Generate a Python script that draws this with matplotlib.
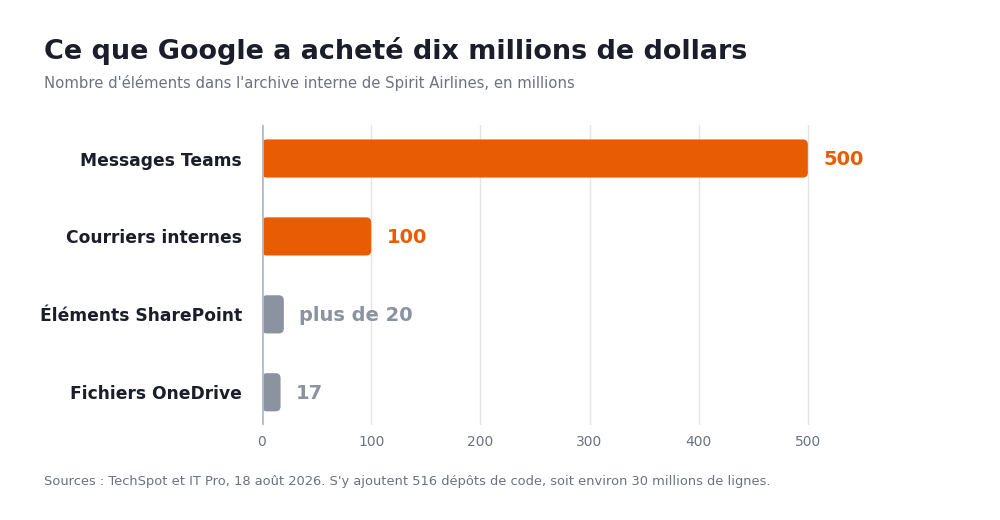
import matplotlib
matplotlib.use("Agg")
import matplotlib.pyplot as plt
from matplotlib.patches import FancyBboxPatch

categories = ["Messages Teams", "Courriers internes", "Éléments SharePoint", "Fichiers OneDrive"]
values = [500, 100, 20, 17]
value_labels = ["500", "100", "plus de 20", "17"]
highlight = [True, True, False, False]
xticks = [0, 100, 200, 300, 400, 500]

ORANGE = "#E85D04"
GREY = "#8B93A0"
DARK = "#1B1D2A"
MUTED = "#6B7280"

plt.rcParams['font.family'] = ['DejaVu Sans']

fig = plt.figure(figsize=(10, 5.2), dpi=100)
ax = fig.add_axes([0.262, 1 - 425 / 520, 0.655, 300 / 520])

ax.set_xlim(0, 600)
ax.set_ylim(len(categories) - 1 + 0.42, -0.43)

bar_h = 0.49
px_per_x = 655 / 600
px_per_y = 300 / (len(categories) - 1 + 0.85)
r_px = 5
rx = r_px / px_per_x
ry = r_px / px_per_y
for i, (v, h) in enumerate(zip(values, highlight)):
    color = ORANGE if h else GREY
    p = FancyBboxPatch((0, i - bar_h / 2), v, bar_h,
                       boxstyle=f"round,pad=0,rounding_size={rx}",
                       mutation_aspect=ry / rx,
                       facecolor=color, edgecolor="none", zorder=3)
    ax.add_patch(p)
    ax.text(v + 14, i + 0.015, value_labels[i], va="center", ha="left",
            fontsize=14, fontweight="bold", color=color, zorder=4)

ax.set_yticks(range(len(categories)))
ax.set_yticklabels(categories, fontsize=12.3, fontweight="bold", color=DARK)
ax.set_xticks(xticks)
ax.set_xticklabels([str(t) for t in xticks], fontsize=10, color=MUTED)
ax.tick_params(axis="both", length=0)
ax.tick_params(axis="y", pad=14.4)
ax.tick_params(axis="x", pad=7.5)

for t in xticks[1:]:
    ax.axvline(t, color="#E3E5EA", linewidth=1, zorder=1)
ax.axvline(0, color="#B4BCCB", linewidth=2, zorder=5)

for s in ax.spines.values():
    s.set_visible(False)

fig.text(0.044, 1 - 51 / 520, "Ce que Google a acheté dix millions de dollars",
         fontsize=19.45, fontweight="bold", color=DARK, va="center", ha="left")
fig.text(0.044, 1 - 83 / 520,
         "Nombre d'éléments dans l'archive interne de Spirit Airlines, en millions",
         fontsize=10.7, color=MUTED, va="center", ha="left")
fig.text(0.044, 1 - 482 / 520,
         "Sources : TechSpot et IT Pro, 18 août 2026. S'y ajoutent 516 dépôts de code, soit environ 30 millions de lignes.",
         fontsize=9.4, color=MUTED, va="center", ha="left")

fig.savefig("out.png", dpi=100, facecolor="white")
